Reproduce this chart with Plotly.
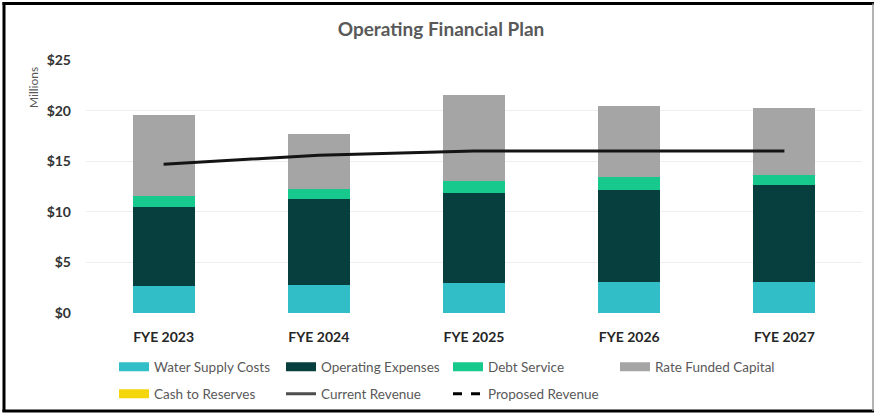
import plotly.graph_objects as go

# ---- data (millions of dollars) ----
years = ["FYE 2023", "FYE 2024", "FYE 2025", "FYE 2026", "FYE 2027"]
water_supply = [2.7, 2.8, 3.0, 3.1, 3.1]
operating_expenses = [7.8, 8.5, 8.9, 9.1, 9.5]
debt_service = [1.1, 1.0, 1.1, 1.2, 1.0]
rate_funded_capital = [8.0, 5.4, 8.5, 7.1, 6.7]
cash_to_reserves = [0, 0, 0, 0, 0]
current_revenue = [14.7, 15.6, 16.0, 16.0, 16.0]
proposed_revenue = [None, None, None, None, None]

y_ticks = [0, 5, 10, 15, 20, 25]
y_tick_text = ["$0", "$5", "$10", "$15", "$20", "$25"]

# ---- layout geometry ----
W, H = 876, 414
L, R, T, B = 86, 14, 60, 101
PW, PH = W - L - R, H - T - B


def fx(px):
    return (px - L) / PW


def fy(py):
    return (H - B - py) / PH


FONT = "Lato"
TEXT_GREY = "#595959"

bar_series = [
    ("Water Supply Costs", water_supply, "#31bec6"),
    ("Operating Expenses", operating_expenses, "#063f3d"),
    ("Debt Service", debt_service, "#17c98c"),
    ("Rate Funded Capital", rate_funded_capital, "#a5a5a5"),
    ("Cash to Reserves", cash_to_reserves, "#f5d50c"),
]

fig = go.Figure()

for name, vals, color in bar_series:
    fig.add_trace(go.Bar(
        x=years, y=vals, name=name, marker=dict(color=color, line=dict(width=0)),
        showlegend=False, hoverinfo="name+y",
    ))

fig.add_trace(go.Scatter(
    x=years, y=current_revenue, name="Current Revenue", mode="lines",
    line=dict(color="#141414", width=3), showlegend=False,
))
fig.add_trace(go.Scatter(
    x=years, y=proposed_revenue, name="Proposed Revenue", mode="lines",
    line=dict(color="#000000", width=3, dash="dash"), showlegend=False,
))

# legend entries (wide swatches, two rows)
for name, _, color in bar_series[:4]:
    fig.add_trace(go.Scatter(
        x=[None], y=[None], name=name, mode="lines",
        line=dict(color=color, width=9), legend="legend", hoverinfo="skip",
    ))
fig.add_trace(go.Scatter(
    x=[None], y=[None], name="Cash to Reserves", mode="lines",
    line=dict(color="#f5d50c", width=9), legend="legend2", hoverinfo="skip",
))
fig.add_trace(go.Scatter(
    x=[None], y=[None], name="Current Revenue", mode="lines",
    line=dict(color="#4d4d4d", width=3), legend="legend2", hoverinfo="skip",
))
fig.add_trace(go.Scatter(
    x=[None], y=[None], name="Proposed Revenue", mode="lines",
    line=dict(color="#000000", width=3, dash="dash"), legend="legend2", hoverinfo="skip",
))

legend_common = dict(
    orientation="h", xanchor="left", yanchor="middle",
    xref="container", yref="container", traceorder="normal",
    font=dict(family=FONT, size=13.5, color=TEXT_GREY),
    entrywidth=122, entrywidthmode="pixels",
    bgcolor="rgba(0,0,0,0)", borderwidth=0, itemclick=False,
)

frame = [
    # black frame: left, top, bottom; thin grey right edge
    dict(type="line", xref="paper", yref="paper", x0=fx(4), x1=fx(4), y0=fy(2), y1=fy(412),
         line=dict(color="#000000", width=3)),
    dict(type="line", xref="paper", yref="paper", x0=fx(2.5), x1=fx(874), y0=fy(3.5), y1=fy(3.5),
         line=dict(color="#000000", width=3)),
    dict(type="line", xref="paper", yref="paper", x0=fx(2.5), x1=fx(874), y0=fy(411), y1=fy(411),
         line=dict(color="#000000", width=3)),
    dict(type="line", xref="paper", yref="paper", x0=fx(873), x1=fx(873), y0=fy(3.5), y1=fy(411),
         line=dict(color="#9a9a9a", width=1.5)),
]

fig.update_layout(
    width=W, height=H,
    margin=dict(l=L, r=R, t=T, b=B),
    paper_bgcolor="white", plot_bgcolor="white",
    barmode="stack", bargap=0.6,
    title=dict(text="<b>Operating Financial Plan</b>", x=441 / W, xanchor="center",
               y=1 - 29 / H, yanchor="middle",
               font=dict(family=FONT, size=19, color=TEXT_GREY)),
    xaxis=dict(showline=False, showgrid=False, zeroline=False, ticks="",
               tickfont=dict(family=FONT, size=14, color="#262626", weight="bold"),
               ticklabelstandoff=14, automargin=False),
    yaxis=dict(range=[0, 25], tickvals=y_ticks, ticktext=y_tick_text,
               showline=False, showgrid=True, gridcolor="#eeeeee", gridwidth=1,
               zeroline=False, ticks="", automargin=False,
               tickfont=dict(family=FONT, size=14, color="#333333", weight="bold"),
               ticklabelstandoff=14),
    legend=dict(x=(114) / W, y=1 - 367 / H, **legend_common),
    legend2=dict(x=(114) / W, y=1 - 394 / H, **legend_common),
    annotations=[dict(text="Millions", xref="paper", yref="paper", x=fx(33), y=fy(88),
                      xanchor="center", yanchor="middle",
                      showarrow=False, textangle=-90,
                      font=dict(family=FONT, size=12, color=TEXT_GREY))],
    shapes=frame,
)

fig.write_html("out.html")
